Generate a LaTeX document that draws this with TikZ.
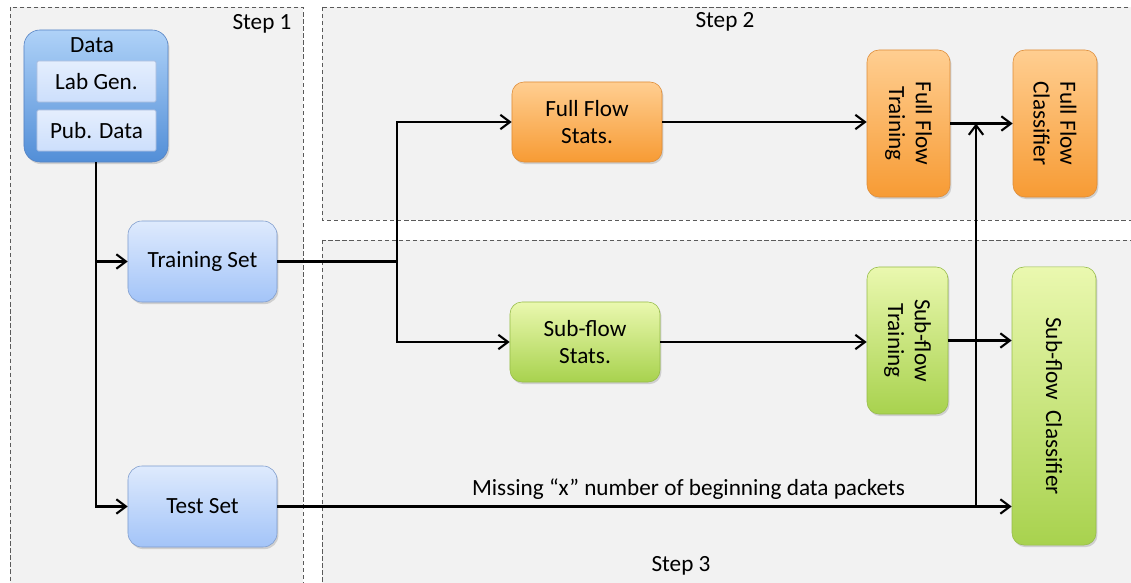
\documentclass[tikz,border=0pt]{standalone}
\usepackage{fontspec}
\setmainfont{Carlito}
\usetikzlibrary{arrows.meta,shadows}

\definecolor{panelgray}{RGB}{242,242,242}
\definecolor{panelline}{RGB}{90,90,90}
\definecolor{bluetop}{RGB}{222,234,253}
\definecolor{bluebot}{RGB}{163,196,248}
\definecolor{blueedge}{RGB}{125,155,205}
\definecolor{datatop}{RGB}{175,210,248}
\definecolor{databot}{RGB}{82,142,215}
\definecolor{dataedge}{RGB}{85,130,195}
\definecolor{orangetop}{RGB}{255,206,145}
\definecolor{orangebot}{RGB}{247,155,52}
\definecolor{orangeedge}{RGB}{222,140,55}
\definecolor{greentop}{RGB}{234,248,175}
\definecolor{greenbot}{RGB}{168,210,78}
\definecolor{greenedge}{RGB}{150,188,72}

\begin{document}
\begin{tikzpicture}[x=0.025cm, y=-0.025cm,
  every node/.style={font=\fontsize{16.5}{19}\selectfont},
  panel/.style={fill=panelgray, draw=panelline, line width=0.6pt, dash pattern=on 3pt off 2pt},
  shade/.style={drop shadow={opacity=0.3, shadow xshift=1pt, shadow yshift=-1.5pt}},
  bluebox/.style={shade, draw=blueedge, rounded corners=0.35cm, top color=bluetop, bottom color=bluebot, align=center},
  datagroup/.style={shade, draw=dataedge, rounded corners=0.4cm, top color=datatop, bottom color=databot},
  datapart/.style={draw=blueedge!70, rounded corners=1pt, top color=bluetop!80!white, bottom color=bluetop!70!bluebot},
  orangebox/.style={shade, draw=orangeedge, rounded corners=0.3cm, top color=orangetop, bottom color=orangebot, align=center},
  greenbox/.style={shade, draw=greenedge, rounded corners=0.3cm, top color=greentop, bottom color=greenbot, align=center},
  orangevbox/.style={orangebox, rotate=-90},
  greenvbox/.style={greenbox, rotate=-90},
  line/.style={line width=1.8pt},
  flow/.style={line, ->, >={Straight Barb[length=2.4mm,width=3.6mm,line width=1.5pt]}}
]

\useasboundingbox (0,0) rectangle (1131,583);
\clip (0,0) rectangle (1131,583);
\fill[white] (0,0) rectangle (1131,583);

% step panels
\draw[panel] (10,7) rectangle (303,600);
\draw[panel] (322,7) rectangle (1145,220);
\draw[panel] (322,240) rectangle (1145,600);

\node (step1) at (262,24) {Step 1};
\node (step2) at (725,22) {Step 2};
\node (step3) at (681,566) {Step 3};

% data sources
\node[datagroup, minimum width=3.6cm, minimum height=3.3cm] (data) at (96,96) {};
\node (datatitle) at (92,45) {Data};
\node[datapart, minimum width=2.975cm, minimum height=1.025cm] (labgen) at (96.5,81.5) {Lab Gen.};
\node[datapart, minimum width=2.975cm, minimum height=1.025cm] (pubdata) at (96.5,130.5) {Pub. Data};

\node[bluebox, minimum width=3.725cm, minimum height=2.025cm] (train) at (202.5,261.5) {Training Set};
\node[bluebox, minimum width=3.725cm, minimum height=2.025cm] (test) at (202.5,506.5) {Test Set};

% full flow
\node[orangebox, minimum width=3.75cm, minimum height=2cm] (ffstats) at (587,122) {Full Flow\\Stats.};
\node[orangevbox, minimum width=3.675cm, minimum height=2.075cm] (fftrain) at (908.5,123.5) {Full Flow\\Training};
\node[orangevbox, minimum width=3.675cm, minimum height=2.1cm] (ffclass) at (1055,123.5) {Full Flow\\Classifier};

% sub-flow
\node[greenbox, minimum width=3.75cm, minimum height=2cm] (sfstats) at (585,342) {Sub-flow\\Stats.};
\node[greenvbox, minimum width=3.675cm, minimum height=2.025cm] (sftrain) at (907.5,340.5) {Sub-flow\\Training};
\node[greenvbox, minimum width=6.95cm, minimum height=2.1cm] (sfclass) at (1054,406) {Sub-flow~~Classifier};

\coordinate (split) at (397,261.5);
\coordinate (tap) at (976,0);

\draw[flow] (data.south) |- (test.west);
\draw[flow] (train.west -| data.south) -- (train.west);

\draw[line] (train.east) -- (split);
\draw[flow] (split) |- (ffstats.west);
\draw[flow] (split) |- (sfstats.west);

\draw[flow] (ffstats.east) -- (ffstats.east -| fftrain.south);
\draw[flow] (fftrain.north) -- (fftrain.north -| ffclass.south);
\draw[flow] (sfstats.east) -- (sfstats.east -| sftrain.south);
\draw[flow] (sftrain.north) -- (sftrain.north -| sfclass.south);

\draw[flow] (test.east) -- (test.east -| sfclass.south)
  node[pos=0.56, above, inner sep=4pt] (missing) {Missing “x” number of beginning data packets};
\draw[flow] (test.east -| tap) -- (fftrain.north -| tap);

\end{tikzpicture}
\end{document}
